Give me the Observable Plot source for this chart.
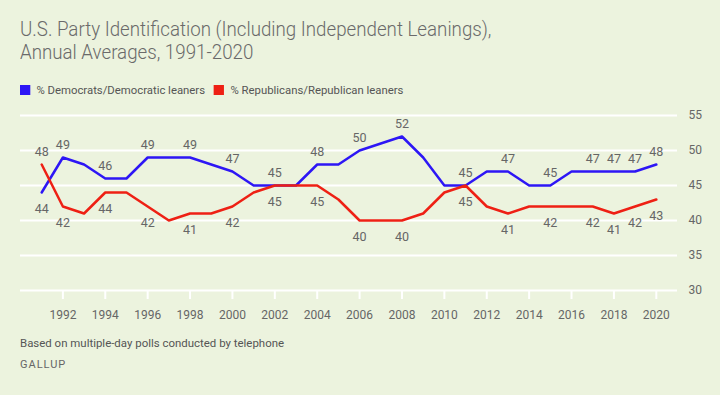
<!DOCTYPE html>
<html>
<head>
<meta charset="utf-8">
<script src="https://cdn.jsdelivr.net/npm/d3@7"></script>
<script src="https://cdn.jsdelivr.net/npm/@observablehq/plot@0.6"></script>
<style>
  html, body { margin: 0; padding: 0; }
  body { width: 720px; height: 395px; background: #ECF3DE; font-family: Roboto, sans-serif; color: #666; position: relative; overflow: hidden; }
  .title { position: absolute; left: 20px; top: 18px; font-size: 19.5px; line-height: 23px; color: #6a6a6a; transform: scaleX(0.96); transform-origin: left top; white-space: nowrap; font-weight: 300; }
  .legend { position: absolute; left: 20px; top: 84px; font-size: 11px; color: #555; white-space: nowrap; transform: scaleX(1.03); transform-origin: left top; }
  .legend span.sw { display: inline-block; width: 10px; height: 10px; vertical-align: -1px; margin-right: 6px; }
  .legend span.item { margin-right: 6px; }
  #chart { position: absolute; left: 0; top: 105px; }
  .caption { position: absolute; left: 20px; top: 337px; font-size: 11px; color: #555; white-space: nowrap; transform: scaleX(1.04); transform-origin: left top; }
  .brand { position: absolute; left: 20px; top: 358px; font-size: 11px; color: #666; letter-spacing: 1px; }
</style>
</head>
<body>
<div class="title">U.S. Party Identification (Including Independent Leanings),<br>Annual Averages, 1991-2020</div>
<div class="legend"><span class="item"><span class="sw" style="background:#2D16F5"></span>% Democrats/Democratic leaners</span> <span class="item"><span class="sw" style="background:#EE2014"></span>% Republicans/Republican leaners</span></div>
<div id="chart"></div>
<div class="caption">Based on multiple-day polls conducted by telephone</div>
<div class="brand">GALLUP</div>
<script>
const years = [1991,1992,1993,1994,1995,1996,1997,1998,1999,2000,2001,2002,2003,2004,2005,2006,2007,2008,2009,2010,2011,2012,2013,2014,2015,2016,2017,2018,2019,2020];
const democrats = [44,49,48,46,46,49,49,49,48,47,45,45,45,48,48,50,51,52,49,45,45,47,47,45,45,47,47,47,47,48];
const republicans = [48,42,41,44,44,42,40,41,41,42,44,45,45,45,43,40,40,40,41,44,45,42,41,42,42,42,42,41,42,43];
const seriesNames = ["% Democrats/Democratic leaners", "% Republicans/Republican leaners"];
const seriesColors = ["#2D16F5", "#EE2014"];
const yTicks = [30,35,40,45,50,55];
const xTicks = [1992,1994,1996,1998,2000,2002,2004,2006,2008,2010,2012,2014,2016,2018,2020];
// labelled years and whether the label goes above (1) or below (-1)
const demLabelYears = [1991,1992,1994,1996,1998,2000,2002,2004,2006,2008,2011,2013,2015,2017,2018,2019,2020];
const demLabelPos = [-1,1,1,1,1,1,1,1,1,1,1,1,1,1,1,1,1];
const repLabelYears = [1991,1992,1994,1996,1998,2000,2002,2004,2006,2008,2011,2013,2015,2017,2018,2019,2020];
const repLabelPos = [1,-1,-1,-1,-1,-1,-1,-1,-1,-1,-1,-1,-1,-1,-1,-1,-1];

const rows = [];
years.forEach((y, i) => {
  rows.push({year: y, value: democrats[i], series: seriesNames[0]});
  rows.push({year: y, value: republicans[i], series: seriesNames[1]});
});
const labels = [];
demLabelYears.forEach((y, i) => labels.push({year: y, value: democrats[years.indexOf(y)], pos: demLabelPos[i]}));
repLabelYears.forEach((y, i) => labels.push({year: y, value: republicans[years.indexOf(y)], pos: repLabelPos[i]}));

const chart = Plot.plot({
  width: 720,
  height: 220,
  marginLeft: 20,
  marginRight: 43,
  marginTop: 10,
  marginBottom: 35,
  style: {background: "transparent", fontFamily: "Roboto, sans-serif", fontSize: "12px", color: "#666"},
  x: {domain: [1990, 2021], label: null},
  y: {domain: [30, 55], label: null},
  color: {domain: seriesNames, range: seriesColors},
  marks: [
    Plot.gridY(yTicks, {stroke: "#fff", strokeWidth: 2, strokeOpacity: 1}),
    Plot.axisX({ticks: xTicks, tickFormat: d => String(d), tickSize: 9, tickPadding: 11, stroke: "#fff", strokeWidth: 2, fill: "#666", fontSize: 12}),
    Plot.axisY({ticks: yTicks, anchor: "right", tickSize: 0, tickPadding: 11, fill: "#666", fontSize: 12}),
    Plot.line(rows, {x: "year", y: "value", z: "series", stroke: "series", strokeWidth: 2.5}),
    Plot.text(labels.filter(d => d.pos > 0), {x: "year", y: "value", text: d => String(d.value), dy: -13, fill: "#666", fontSize: 12.5}),
    Plot.text(labels.filter(d => d.pos < 0), {x: "year", y: "value", text: d => String(d.value), dy: 16, fill: "#666", fontSize: 12.5})
  ]
});
document.getElementById("chart").appendChild(chart);
</script>
</body>
</html>
